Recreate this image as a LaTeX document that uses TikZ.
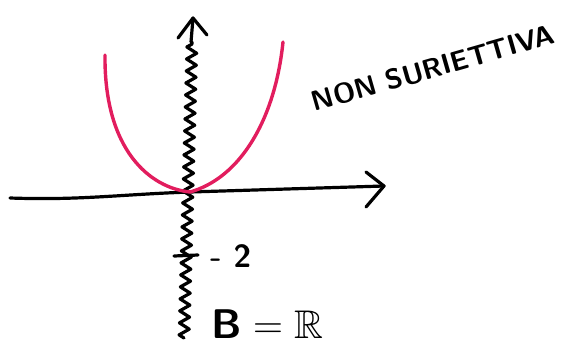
\documentclass[tikz,border=0pt]{standalone}
\usepackage{amsmath}
\usepackage{amssymb}
\usepackage{xcolor}
\usepackage{tikz}
\usetikzlibrary{positioning,arrows.meta,decorations.pathmorphing}

\definecolor{curvepink}{HTML}{E21D5E}

\begin{document}
\begin{tikzpicture}[x=0.5pt,y=-0.5pt,
      axisline/.style={line width=1.6pt,line cap=round,line join=round},
      wiggle/.style={axisline,decorate,decoration={zigzag,segment length=6pt,amplitude=2.5pt}},
      curve/.style={line width=1.7pt,curvepink,line cap=round}]
    \useasboundingbox (0,0) rectangle (579,354);
    % axes
    \coordinate (xl) at (10,198);
    \coordinate (xr) at (384,186);
    \coordinate (yb) at (184,338);
    \coordinate (yt) at (193,18);
    \coordinate (O) at (190,192);
    \draw[axisline] (xl) to[out=-2,in=182] (O) -- (xr);
    \draw[axisline] (366,172) -- (xr) -- (366,207);
    \draw[wiggle] (yb) -- (192,42);
    \draw[axisline] (191,42) -- (yt);
    \draw[axisline] (178,38) -- (yt) -- (207,35);
    % parabola
    \draw[curve] (105,55) .. controls (104,150) and (150,188) .. (O)
                 .. controls (240,178) and (275,120) .. (283,42);
    % tick at -2
    \coordinate (t1) at (174,256);
    \coordinate (t2) at (198,255);
    \draw[axisline] (t1) -- (t2);
    \node[font=\sffamily\bfseries\fontsize{16}{16}\selectfont,anchor=west] (mtwo) at (203,256) {- 2};
    % codomain
    \node[font=\bfseries\fontsize{20}{20}\selectfont,anchor=west] (cod) at (204,324) {$\boldsymbol{\mathsf{B}} = \mathbb{R}$};
    % comment
    \node[font=\sffamily\bfseries\fontsize{14}{14}\selectfont,rotate=16] (nons) at (433,68) {NON SURIETTIVA};
  \end{tikzpicture}
\end{document}
